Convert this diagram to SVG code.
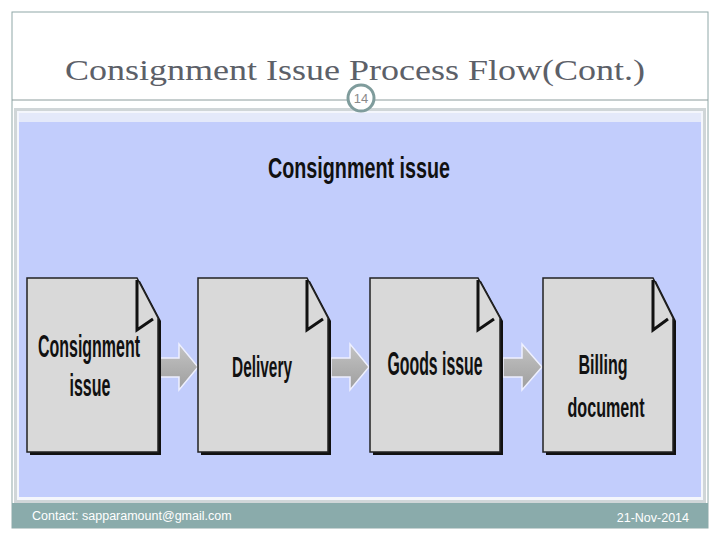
<svg xmlns="http://www.w3.org/2000/svg" width="720" height="540" viewBox="0 0 720 540">
<defs>
  <linearGradient id="arrowGrad" x1="0" y1="0" x2="0" y2="1">
    <stop offset="0" stop-color="#c4c4c4"/>
    <stop offset="1" stop-color="#9e9e9e"/>
  </linearGradient>
  <style>
    .title{font-family:"Liberation Serif","Times New Roman",serif;font-size:29px;fill:#5c6068}
    .pg{font-family:"Liberation Sans",Arial,sans-serif;font-size:13px;fill:#8a8a8a}
    .foot{font-family:"Liberation Sans",Arial,sans-serif;font-size:12.5px;fill:#ffffff}
    .lbl{font-family:"Liberation Sans",Arial,sans-serif;font-weight:bold;fill:#111111}
    .doc{fill:#d9d9d9;stroke:#222222;stroke-width:1.5}
    .shadow{fill:#111111}
    .fold{fill:none;stroke:#111111;stroke-width:3;stroke-linejoin:miter}
    .arrow{fill:url(#arrowGrad);stroke:#eef0ff;stroke-width:1.5}
  </style>
</defs>

<!-- slide frame -->
<rect x="12" y="12" width="696" height="516" fill="#ffffff" stroke="#90a8a8" stroke-width="1"/>
<text class="title" x="355" y="80" text-anchor="middle" textLength="580" lengthAdjust="spacingAndGlyphs">Consignment Issue Process Flow(Cont.)</text>
<line x1="12" y1="100" x2="708" y2="100" stroke="#8c9c9c" stroke-width="1"/>

<!-- picture -->
<rect x="14" y="108" width="692" height="395" fill="#d0d6d8"/>
<rect x="17" y="111" width="686" height="389" fill="#f4f6fc"/>
<rect x="19" y="113" width="682" height="10" fill="#e4e9fa"/>
<rect x="19" y="122" width="682" height="375" fill="#c2cdfc"/>

<!-- page number badge -->
<circle cx="361" cy="98" r="13" fill="#ffffff" stroke="#7f9c9c" stroke-width="3"/>
<text class="pg" x="361" y="103" text-anchor="middle">14</text>

<!-- footer -->
<rect x="12" y="503" width="696" height="25" fill="#8aabab"/>
<text class="foot" x="32" y="520">Contact: sapparamount@gmail.com</text>
<text class="foot" x="689" y="522" text-anchor="end" font-size="13">21-Nov-2014</text>

<text id="heading" class="lbl" x="359" y="178" font-size="29" text-anchor="middle" textLength="182" lengthAdjust="spacingAndGlyphs" fill="#1a1a28">Consignment issue</text>

<!-- connectors -->
<g id="connectors">
  <path class="arrow" d="M159,358 H179 V344 L198,367 L179,390 V377 H159 Z"/>
  <path class="arrow" d="M331,358 H350 V344 L369,367 L350,390 V377 H331 Z"/>
  <path class="arrow" d="M503,358 H522 V344 L542,367 L522,390 V377 H503 Z"/>
</g>

<g id="node-consignment-issue">
  <path class="shadow" d="M30,281 H140 L161,321 V455 H30 Z"/>
  <path class="doc" d="M27,278 H137 L158,318 V452 H27 Z"/>
  <polyline class="fold" points="137,280 137,330 153,319"/>
  <text class="lbl" x="89" y="357" font-size="32" text-anchor="middle" textLength="102" lengthAdjust="spacingAndGlyphs">Consignment</text>
  <text class="lbl" x="90" y="396" font-size="32" text-anchor="middle" textLength="41" lengthAdjust="spacingAndGlyphs">issue</text>
</g>

<g id="node-delivery">
  <path class="shadow" d="M201,281 H310 L331,321 V455 H201 Z"/>
  <path class="doc" d="M198,278 H307 L328,318 V452 H198 Z"/>
  <polyline class="fold" points="307,280 307,330 323,319"/>
  <text class="lbl" x="262" y="377" font-size="29" text-anchor="middle" textLength="60" lengthAdjust="spacingAndGlyphs">Delivery</text>
</g>

<g id="node-goods-issue">
  <path class="shadow" d="M373,281 H481 L503,321 V455 H373 Z"/>
  <path class="doc" d="M370,278 H478 L500,318 V452 H370 Z"/>
  <polyline class="fold" points="478,280 478,330 494,319"/>
  <text class="lbl" x="435" y="375" font-size="34" text-anchor="middle" textLength="95" lengthAdjust="spacingAndGlyphs">Goods issue</text>
</g>

<g id="node-billing-document">
  <path class="shadow" d="M546,281 H656 L676,321 V455 H546 Z"/>
  <path class="doc" d="M543,278 H653 L673,318 V452 H543 Z"/>
  <polyline class="fold" points="653,280 653,330 668,319"/>
  <text class="lbl" x="603" y="374" font-size="28" text-anchor="middle" textLength="49" lengthAdjust="spacingAndGlyphs">Billing</text>
  <text class="lbl" x="606" y="417" font-size="28" text-anchor="middle" textLength="77" lengthAdjust="spacingAndGlyphs">document</text>
</g>
</svg>
